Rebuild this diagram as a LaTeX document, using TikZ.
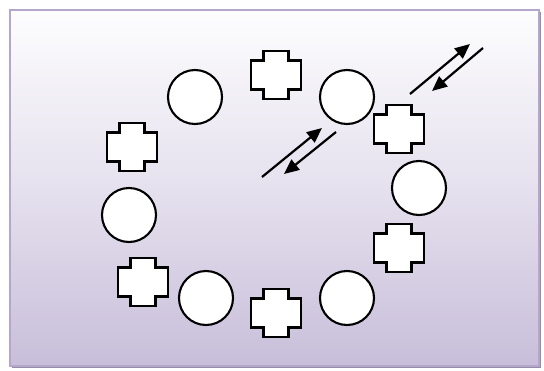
\documentclass[tikz,border=0pt]{standalone}
\usetikzlibrary{arrows.meta}
\definecolor{lavtop}{RGB}{253,253,254}
\definecolor{lavbot}{RGB}{200,190,218}
\definecolor{lavline}{RGB}{181,166,206}
\definecolor{lavshade}{RGB}{150,140,165}
\tikzset{
  ring/.style={circle,draw,fill=white,line width=2.1pt,minimum size=54pt,inner sep=0pt},
  plus/.pic={
    \draw[fill=white,line width=2.1pt,line join=miter]
    (-12.5,-24) -- (12.5,-24) -- (12.5,-14.5) -- (25,-14.5) -- (25,14.5)
    -- (12.5,14.5) -- (12.5,24) -- (-12.5,24) -- (-12.5,14.5) -- (-25,14.5)
    -- (-25,-14.5) -- (-12.5,-14.5) -- cycle;
  },
  flow/.style={line width=2.2pt,-{Triangle[length=15pt,width=13pt]}}
}
\begin{document}
\begin{tikzpicture}[x=1pt,y=-1pt]
\useasboundingbox (0,0) rectangle (544,370);
% panel
\fill[lavshade] (12,12) rectangle (541,368);
\shade[top color=lavtop,bottom color=lavbot,middle color=lavtop!55!lavbot] (10,10) rectangle (539,366);
\draw[lavline,line width=1.8pt] (10,10) rectangle (539,366);

% circles
\node[ring] (c1) at (195,97) {};
\node[ring] (c2) at (347,97) {};
\node[ring] (c3) at (419,188) {};
\node[ring] (c4) at (129,215) {};
\node[ring] (c5) at (206,298) {};
\node[ring] (c6) at (347,298) {};

% crosses
\pic at (132,147) {plus};
\pic at (276,75) {plus};
\pic at (399,129) {plus};
\pic at (399,248) {plus};
\pic at (143,282) {plus};
\pic at (276,313) {plus};

% arrows
\coordinate (a1) at (262,177);
\coordinate (a2) at (322,128);
\coordinate (b1) at (336,132);
\coordinate (b2) at (284,174);
\coordinate (p1) at (410,94);
\coordinate (p2) at (470,44);
\coordinate (q1) at (483,48);
\coordinate (q2) at (432,91);
\draw[flow] (a1) -- (a2);
\draw[flow] (b1) -- (b2);
\draw[flow] (p1) -- (p2);
\draw[flow] (q1) -- (q2);
\end{tikzpicture}
\end{document}
